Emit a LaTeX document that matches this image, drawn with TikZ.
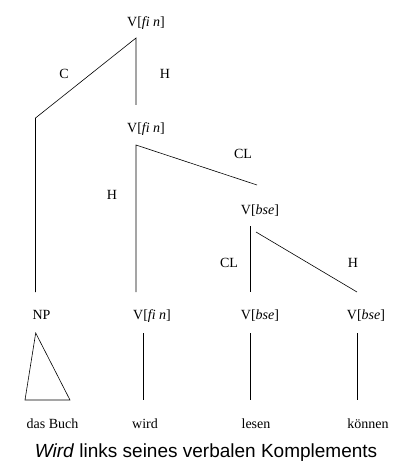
\documentclass[tikz,border=0pt]{standalone}
\usepackage{fontspec}
\setmainfont{Liberation Serif}
\setsansfont{Liberation Sans}
\tikzset{
  cat/.style={anchor=base,inner sep=0pt,font=\fontsize{14}{16}\selectfont},
  edge/.style={line width=0.6pt},
}
\begin{document}
\begin{tikzpicture}[x=1pt,y=-1pt]
  \useasboundingbox (0,0) rectangle (396,473);
  % categories
  \node[cat] (vfintop) at (146,27) {V[\textit{fi n}]};
  \node[cat] (vfinmid) at (146,133) {V[\textit{fi n}]};
  \node[cat] (vbsemid) at (260,214) {V[\textit{bse}]};
  \node[cat] (np) at (41.5,319) {NP};
  \node[cat] (vfinlow) at (152,319) {V[\textit{fi n}]};
  \node[cat] (vbselow) at (260,319) {V[\textit{bse}]};
  \node[cat] (vbseright) at (366,319) {V[\textit{bse}]};
  % edge labels
  \node[cat] (lc) at (64,79) {C};
  \node[cat] (lh1) at (165,79) {H};
  \node[cat] (lcl1) at (243,159) {CL};
  \node[cat] (lh2) at (112,199) {H};
  \node[cat] (lcl2) at (229,267) {CL};
  \node[cat] (lh3) at (353,267) {H};
  % words
  \node[cat] (wbuch) at (52.5,428) {das Buch};
  \node[cat] (wwird) at (145,428) {wird};
  \node[cat] (wlesen) at (256,428) {lesen};
  \node[cat] (wkoennen) at (368,428) {können};
  \node[anchor=base,inner sep=0pt,font=\sffamily\fontsize{19}{21}\selectfont] (caption) at (206,457)
    {\textit{Wird} links seines verbalen Komplements};
  % attachment points
  \coordinate (root) at (136,38);
  \coordinate (cbend) at (35.5,118);
  \coordinate (cend) at (35.5,292);
  \coordinate (hend) at (136,105);
  \coordinate (mid) at (136,145);
  \coordinate (midh) at (136,292);
  \coordinate (midcl) at (257,185);
  \coordinate (low) at (250.5,226);
  \coordinate (lowcl) at (250.5,292);
  \coordinate (lowh0) at (256,232);
  \coordinate (lowh) at (357,292);
  \coordinate (tri) at (35.7,333);
  \coordinate (wirdtop) at (143,333);
  \coordinate (wirdbot) at (143,400);
  \coordinate (lesentop) at (250.5,333);
  \coordinate (lesenbot) at (250.5,400);
  \coordinate (koentop) at (357,333);
  \coordinate (koenbot) at (357,400);
  % branches
  \draw[edge] (cend) -- (cbend) -- (root) -- (hend);
  \draw[edge] (midh) -- (mid) -- (midcl);
  \draw[edge] (low) -- (lowcl);
  \draw[edge] (lowh0) -- (lowh);
  \draw[edge] (tri) -- (70,400) -- (25,400) -- cycle;
  \draw[edge] (wirdtop) -- (wirdbot);
  \draw[edge] (lesentop) -- (lesenbot);
  \draw[edge] (koentop) -- (koenbot);
\end{tikzpicture}
\end{document}
